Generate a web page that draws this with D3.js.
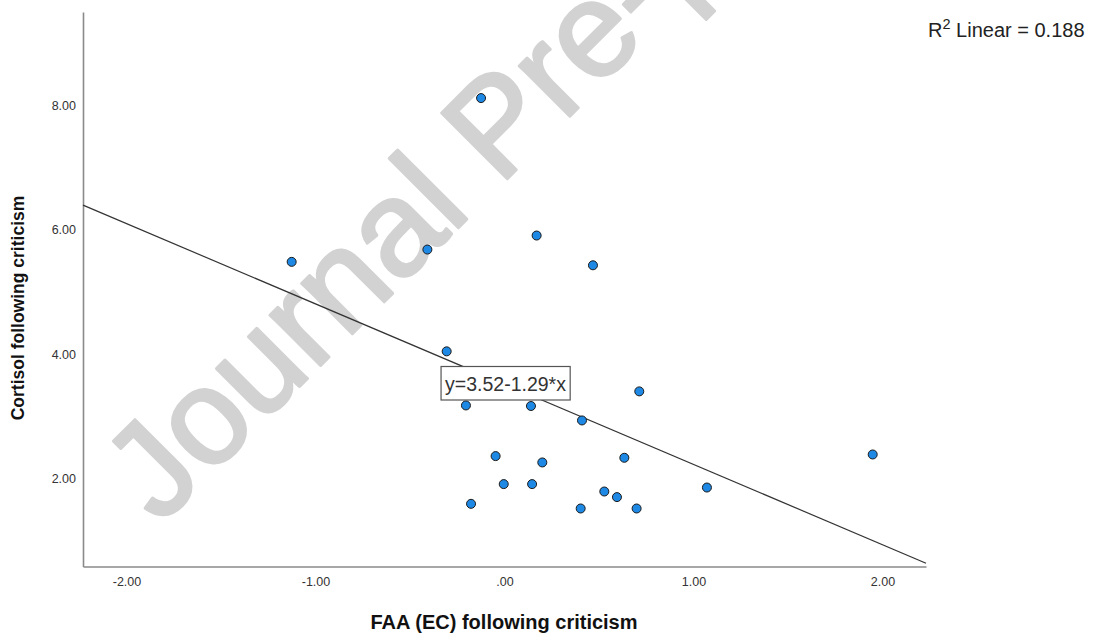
<!DOCTYPE html>
<html>
<head>
<meta charset="utf-8">
<script src="https://cdn.jsdelivr.net/npm/d3@7"></script>
<style>
  body { margin: 0; background: #fff; }
  svg { display: block; font-family: "Liberation Sans", Arial, sans-serif; }
</style>
</head>
<body>
<svg id="chart" width="1094" height="640"></svg>
<script>
// FAA (EC) vs cortisol
let faa = [-1.126, -0.408, -0.124, 0.170, 0.468, -0.306, -0.204, 0.140, 0.410, 0.713, -0.047,
           0.200, 0.634, 1.948, -0.004, 0.146, 0.528, 0.595, 1.071, -0.177, 0.403, 0.699];
let cortisol = [5.485, 5.683, 8.117, 5.908, 5.430, 4.047, 3.178, 3.169, 2.937, 3.404, 2.364,
                2.262, 2.337, 2.390, 1.914, 1.914, 1.795, 1.705, 1.859, 1.597, 1.522, 1.522];
let xTicks = [-2, -1, 0, 1, 2];
let xTickLabels = ["-2.00", "-1.00", ".00", "1.00", "2.00"];
let yTicks = [2, 4, 6, 8];
let yTickLabels = ["2.00", "4.00", "6.00", "8.00"];
let fit = [3.52, -1.29]; // intercept, slope
let rSquared = "0.188";

let svg = d3.select('#chart');

// watermark sits under everything
svg.append('text')
    .attr('transform', 'translate(160,526) rotate(-45)')
    .attr('font-size', 135)
    .attr('fill', '#d2d2d2')
    .attr('stroke', '#d2d2d2')
    .attr('stroke-width', 3)
    .attr('stroke-linejoin', 'round')
    .text('Journal Pre-proof');

let x = d3.scaleLinear().domain([-2.23, 2.23]).range([83, 926]);
let y = d3.scaleLinear().domain([0.59, 9.5]).range([566.5, 12]);

let xAxis = svg.append('g')
    .attr('transform', 'translate(0,566.5)')
    .call(d3.axisBottom(x).tickValues(xTicks).tickSize(0).tickPadding(11)
        .tickFormat((d, i) => xTickLabels[i]));
let yAxis = svg.append('g')
    .attr('transform', 'translate(83,0)')
    .call(d3.axisLeft(y).tickValues(yTicks).tickSize(0).tickPadding(7)
        .tickFormat((d, i) => yTickLabels[i]));
[xAxis, yAxis].forEach(a => {
    a.select('.domain').attr('stroke', '#8a8a8a').attr('stroke-width', 1.6);
    a.selectAll('text').attr('font-size', 12.5).attr('fill', '#333')
        .attr('font-family', '"Liberation Sans", Arial, sans-serif');
});

// fit line
let line = d3.line().x(d => x(d)).y(d => y(fit[0] + fit[1] * d));
svg.append('path')
    .datum(x.domain())
    .attr('d', line)
    .attr('fill', 'none')
    .attr('stroke', '#333')
    .attr('stroke-width', 1.2);

// points
svg.append('g').selectAll('circle')
    .data(faa)
    .join('circle')
    .attr('cx', d => x(d))
    .attr('cy', (d, i) => y(cortisol[i]))
    .attr('r', 4.5)
    .attr('fill', '#1e88e5')
    .attr('stroke', '#1a1a1a')
    .attr('stroke-width', 1);

// equation label
let eq = svg.append('g');
let eqText = eq.append('text')
    .attr('x', 505.5).attr('y', 390.5)
    .attr('text-anchor', 'middle')
    .attr('font-size', 19.5)
    .attr('fill', '#333')
    .text('y=' + fit[0].toFixed(2) + '-' + Math.abs(fit[1]).toFixed(2) + '*x');
let bb = eqText.node().getBBox();
eq.insert('rect', 'text')
    .attr('x', bb.x - 4).attr('y', 366.5)
    .attr('width', bb.width + 8).attr('height', 33.5)
    .attr('fill', '#fff')
    .attr('stroke', '#555')
    .attr('stroke-width', 1.2);

// R squared
let r2 = svg.append('text')
    .attr('x', 928).attr('y', 37)
    .attr('font-size', 20)
    .attr('fill', '#222');
r2.append('tspan').text('R');
r2.append('tspan').attr('dy', -8).attr('font-size', 14.5).text('2');
r2.append('tspan').attr('dy', 8).text(' Linear = ' + rSquared);

// axis titles
svg.append('text')
    .attr('x', 504).attr('y', 629)
    .attr('text-anchor', 'middle')
    .attr('font-size', 20)
    .attr('font-weight', 'bold')
    .attr('fill', '#111')
    .text('FAA (EC) following criticism');
svg.append('text')
    .attr('transform', 'translate(24,308) rotate(-90)')
    .attr('text-anchor', 'middle')
    .attr('font-size', 17.5)
    .attr('font-weight', 'bold')
    .attr('fill', '#111')
    .text('Cortisol following criticism');
</script>
</body>
</html>
